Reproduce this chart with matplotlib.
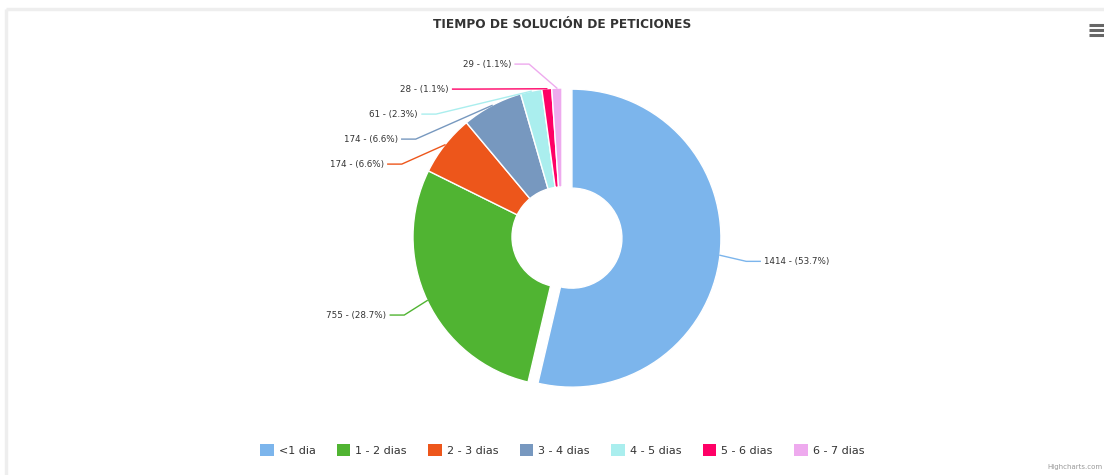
import numpy as np
import matplotlib
matplotlib.use("Agg")
import matplotlib.pyplot as plt
from matplotlib.patches import Patch

# ---- data ----
categories = ["<1 dia", "1 - 2 dias", "2 - 3 dias", "3 - 4 dias", "4 - 5 dias", "5 - 6 dias", "6 - 7 dias"]
values = [1414, 755, 174, 174, 61, 28, 29]
colors = ["#7cb5ec", "#50b432", "#ed561b", "#7798bf", "#aaeeee", "#ff0066", "#eeaaee"]
title = "TIEMPO DE SOLUCIÓN DE PETICIONES"

W, H = 1104, 475
fig = plt.figure(figsize=(W / 100, H / 100), dpi=100)
fig.patch.set_facecolor("white")
ax = fig.add_axes([0, 0, 1, 1])

# layout (pixel space, y measured from top)
cx, cy_top = 562, 237
r = 149
inner = 50
offset = 10
cy = H - cy_top

explode = [offset] + [0] * (len(values) - 1)
wedges, _ = ax.pie(values, colors=colors, startangle=90, counterclock=False,
                   radius=r, center=(cx, cy), explode=explode, frame=True,
                   wedgeprops=dict(width=r - inner, edgecolor="white", linewidth=1))
ax.set_xlim(0, W)
ax.set_ylim(0, H)
ax.set_aspect("auto")
ax.axis("off")

font = ["DejaVu Sans"]
total = sum(values)
frac = np.array(values) / total
ends = np.cumsum(frac)
starts = ends - frac
mids = (starts + ends) / 2 * 2 * np.pi  # clockwise from top

R_lab = r + 27
spacing = 25
items = []
for i, th in enumerate(mids):
    ox = offset * np.sin(th) if i == 0 else 0
    oy = offset * np.cos(th) if i == 0 else 0
    ny = cy_top - R_lab * np.cos(th) - oy
    side = 1 if np.sin(th) > 0 else -1
    items.append(dict(i=i, th=th, ox=ox, oy=oy, y=ny, side=side))

for side in (1, -1):
    grp = sorted([it for it in items if it["side"] == side], key=lambda d: d["y"])
    for k in range(1, len(grp)):
        if grp[k]["y"] < grp[k - 1]["y"] + spacing:
            grp[k]["y"] = grp[k - 1]["y"] + spacing
    for it in grp:
        it["y"] += 3

for it in items:
    i, th, side, y = it["i"], it["th"], it["side"], it["y"]
    dy = y - cy_top
    ax_x = cx + it["ox"] + side * np.sqrt(max(R_lab ** 2 - dy ** 2, 0))
    ex = cx + it["ox"] + r * np.sin(th)
    ey = cy_top - it["oy"] - r * np.cos(th)
    tx = ax_x + side * 18
    xs = [tx - side * 4, ax_x, ex]
    ys = [y, y, ey]
    ax.plot(xs, [H - v for v in ys], color=colors[i], lw=1, solid_joinstyle="round")
    pct = values[i] / total * 100
    ax.text(tx, H - y, f"{values[i]} - ({pct:.1f}%)", ha="left" if side > 0 else "right",
            va="center", fontsize=6.3, color="#333333", family=font)

# title
fig.text(cx / W, 1 - 25 / H, title, ha="center", va="center", fontsize=8.7,
         fontweight="bold", color="#333333", family=font)

# legend
handles = [Patch(facecolor=c, edgecolor="none") for c in colors]
fig.legend(handles, categories, loc="center", bbox_to_anchor=(cx / W, 1 - 450 / H),
           ncol=len(categories), frameon=False, handlelength=1.25,
           handleheight=1.25, handletextpad=0.45, columnspacing=1.9,
           prop=dict(family=font, size=8), labelcolor="#333333")

# border
ax.plot([6, W], [H - 9, H - 9], color="#eeeeee", lw=2.5, solid_capstyle="butt")
ax.plot([6, 6], [H - 9, 0], color="#eeeeee", lw=2.5, solid_capstyle="butt")

# menu icon
for yy in (25, 30, 35):
    ax.plot([1089, 1104], [H - yy, H - yy], color="#666666", lw=2.2, solid_capstyle="butt")

# credit
fig.text(1102 / W, 1 - 467 / H, "Highcharts.com", ha="right", va="center",
         fontsize=5, color="#999999")

fig.savefig("out.png", dpi=100, facecolor="white")
